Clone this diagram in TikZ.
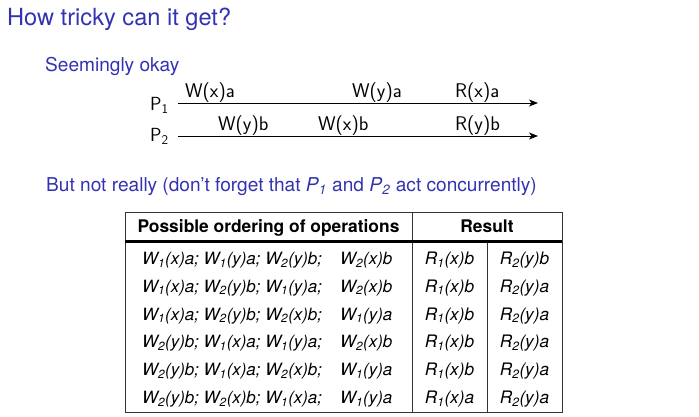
\documentclass[tikz,border=0pt]{standalone}
\usepackage{fontspec}
\setmainfont{TeX Gyre Heros}
\usetikzlibrary{arrows.meta}
\definecolor{struct}{rgb}{0.2,0.2,0.7}
\newcommand\opW[2]{W\textsubscript{#1}(#2)}
\newcommand\opR[2]{R\textsubscript{#1}(#2)}
\begin{document}
\begin{tikzpicture}[x=1pt,y=-1pt,
  titletext/.style={anchor=base west, inner sep=0pt, text=struct, font=\fontsize{23.6}{27}\selectfont},
  bluetext/.style={anchor=base west, inner sep=0pt, text=struct, font=\fontsize{19.1}{22}\selectfont},
  plabel/.style={anchor=base west, inner sep=0pt, font=\sffamily\fontsize{19}{21}\selectfont},
  oplabel/.style={anchor=base west, inner sep=0pt, font=\sffamily\fontsize{19.8}{21}\selectfont},
  timeline/.style={line width=0.9pt, -{Stealth[length=9pt,width=7pt,inset=2.5pt]}},
  cell/.style={anchor=base west, inner sep=0pt, font=\itshape\fontsize{16.9}{20}\selectfont},
  rcell/.style={anchor=base, inner sep=0pt, font=\itshape\fontsize{17.2}{20}\selectfont},
  headcell/.style={anchor=base, inner sep=0pt, font=\bfseries\fontsize{17.4}{20}\selectfont},
  thinrule/.style={line width=0.8pt, draw=black!80},
  thickrule/.style={line width=2.6pt, draw=black}
]
\useasboundingbox (0,0) rectangle (699,416);
\node[titletext] (title) at (7,25) {How tricky can it get?};
\node[bluetext] (seem) at (45,71) {Seemingly okay};
\node[bluetext] (but) at (46,191) {But not really (don’t forget that \textit{P}\textsubscript{\textit{1}} and \textit{P}\textsubscript{\textit{2}} act concurrently)};

% processes
\node[plabel] (p1) at (150,110) {P\textsubscript{1}};
\node[plabel] (p2) at (150,141) {P\textsubscript{2}};
\coordinate (p1s) at (178,103);
\coordinate (p1e) at (538,103);
\coordinate (p2s) at (178,136);
\coordinate (p2e) at (538,136);
\draw[timeline] (p1s) -- (p1e);
\draw[timeline] (p2s) -- (p2e);
\node[oplabel] (wxa) at (185,97) {W(x)a};
\node[oplabel] (wya) at (352,97) {W(y)a};
\node[oplabel] (rxa) at (455,97) {R(x)a};
\node[oplabel] (wyb) at (218,130) {W(y)b};
\node[oplabel] (wxb) at (318,130) {W(x)b};
\node[oplabel] (ryb) at (455,130) {R(y)b};

% table
\draw[thinrule] (125,212) rectangle (562,412);
\draw[thinrule] (412,212) -- (412,412);
\draw[thinrule] (487,241.7) -- (487,412);
\draw[thickrule] (125,241.7) -- (562,241.7);
\node[headcell] (h1) at (268.5,232) {Possible ordering of operations};
\node[headcell] (h2) at (487,232) {Result};
\foreach \i/\a/\b/\c/\d in {
  1/{\opW1{x}a; \opW1{y}a; \opW2{y}b;}/{\opW2{x}b}/{\opR1{x}b}/{\opR2{y}b},
  2/{\opW1{x}a; \opW2{y}b; \opW1{y}a;}/{\opW2{x}b}/{\opR1{x}b}/{\opR2{y}a},
  3/{\opW1{x}a; \opW2{y}b; \opW2{x}b;}/{\opW1{y}a}/{\opR1{x}b}/{\opR2{y}a},
  4/{\opW2{y}b; \opW1{x}a; \opW1{y}a;}/{\opW2{x}b}/{\opR1{x}b}/{\opR2{y}a},
  5/{\opW2{y}b; \opW1{x}a; \opW2{x}b;}/{\opW1{y}a}/{\opR1{x}b}/{\opR2{y}a},
  6/{\opW2{y}b; \opW2{x}b; \opW1{x}a;}/{\opW1{y}a}/{\opR1{x}a}/{\opR2{y}a}}{
  \pgfmathsetmacro\yy{264.5+27.8*(\i-1)}
  \node[cell] (ra\i) at (142,\yy) {\a};
  \node[cell] (rb\i) at (340,\yy) {\b};
  \node[rcell] (rc\i) at (449.5,\yy) {\c};
  \node[rcell] (rd\i) at (524.5,\yy) {\d};
}
\end{tikzpicture}
\end{document}
